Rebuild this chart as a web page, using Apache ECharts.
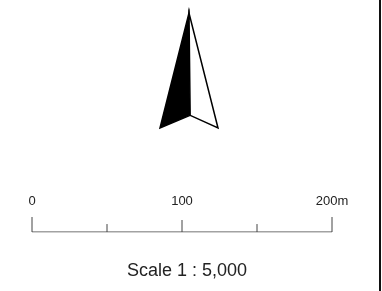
<!DOCTYPE html>
<html>
<head>
<meta charset="utf-8">
<script src="https://cdn.jsdelivr.net/npm/echarts@6/dist/echarts.min.js"></script>
<style>
  html, body { margin: 0; padding: 0; background: #fff; }
  #chart-container { width: 382px; height: 291px; }
</style>
</head>
<body>
<div id="chart-container"></div>
<script>
// north arrow outline (unit box: x 0..1 left->right, y 0..1 bottom->top)
const arrowLeftHalf = [[0.5, 1], [0, 0], [0.52, 0.11]];
const arrowRightHalf = [[0.5, 1], [0.52, 0.11], [1, 0]];

// scale bar: distance in metres and relative tick height
const scaleTicks = [0, 50, 100, 150, 200];
const tickHeights = [1, 0.53, 0.8, 0.53, 1];
const scaleLabels = ['0', '100', '200m'];
const scaleText = 'Scale 1 : 5,000';

const myChart = echarts.init(document.getElementById('chart-container'));

const polygonSeries = (name, points, fill) => ({
  name: name,
  type: 'custom',
  xAxisIndex: 0,
  yAxisIndex: 0,
  data: [0],
  silent: true,
  renderItem: (params, api) => ({
    type: 'polygon',
    shape: { points: points.map(p => api.coord(p)) },
    style: { fill: fill, stroke: '#000', lineWidth: 1.5, lineJoin: 'miter' }
  })
});

const option = {
  animation: false,
  backgroundColor: '#fff',
  textStyle: { fontFamily: 'Liberation Sans' },
  title: {
    text: scaleText,
    left: 127,
    top: 262,
    padding: 0,
    textStyle: { fontSize: 18, fontWeight: 'normal', color: '#222', fontFamily: 'Liberation Sans' }
  },
  graphic: [{
    type: 'rect',
    shape: { x: 379, y: 0, width: 2, height: 291 },
    style: { fill: '#111' }
  }],
  grid: [
    { left: 160, top: 13, width: 58, height: 115 },
    { left: 32, top: 217, width: 300, height: 15 }
  ],
  xAxis: [
    { gridIndex: 0, type: 'value', min: 0, max: 1, show: false },
    {
      gridIndex: 1, type: 'value', min: 0, max: 200, interval: 100,
      position: 'top',
      axisLine: { show: false },
      axisTick: { show: false },
      splitLine: { show: false },
      axisLabel: {
        margin: 9,
        fontSize: 13,
        color: '#222',
        formatter: (v) => scaleLabels[v / 100]
      }
    }
  ],
  yAxis: [
    { gridIndex: 0, type: 'value', min: 0, max: 1, show: false },
    { gridIndex: 1, type: 'value', min: 0, max: 1, show: false }
  ],
  series: [
    polygonSeries('arrow-left', arrowLeftHalf, '#000'),
    polygonSeries('arrow-right', arrowRightHalf, '#fff'),
    {
      name: 'scale-ticks',
      type: 'custom',
      xAxisIndex: 1,
      yAxisIndex: 1,
      silent: true,
      data: scaleTicks.map((d, i) => [d, tickHeights[i]]),
      renderItem: (params, api) => {
        const base = api.coord([api.value(0), 0]);
        const top = api.coord([api.value(0), api.value(1)]);
        return {
          type: 'line',
          shape: { x1: base[0], y1: base[1], x2: top[0], y2: top[1] },
          style: { stroke: '#444', lineWidth: 1 }
        };
      }
    },
    {
      name: 'scale-bar',
      type: 'line',
      xAxisIndex: 1,
      yAxisIndex: 1,
      silent: true,
      symbol: 'none',
      data: [[scaleTicks[0], 0], [scaleTicks[scaleTicks.length - 1], 0]],
      lineStyle: { color: '#444', width: 1 }
    }
  ]
};

myChart.setOption(option);
</script>
</body>
</html>
